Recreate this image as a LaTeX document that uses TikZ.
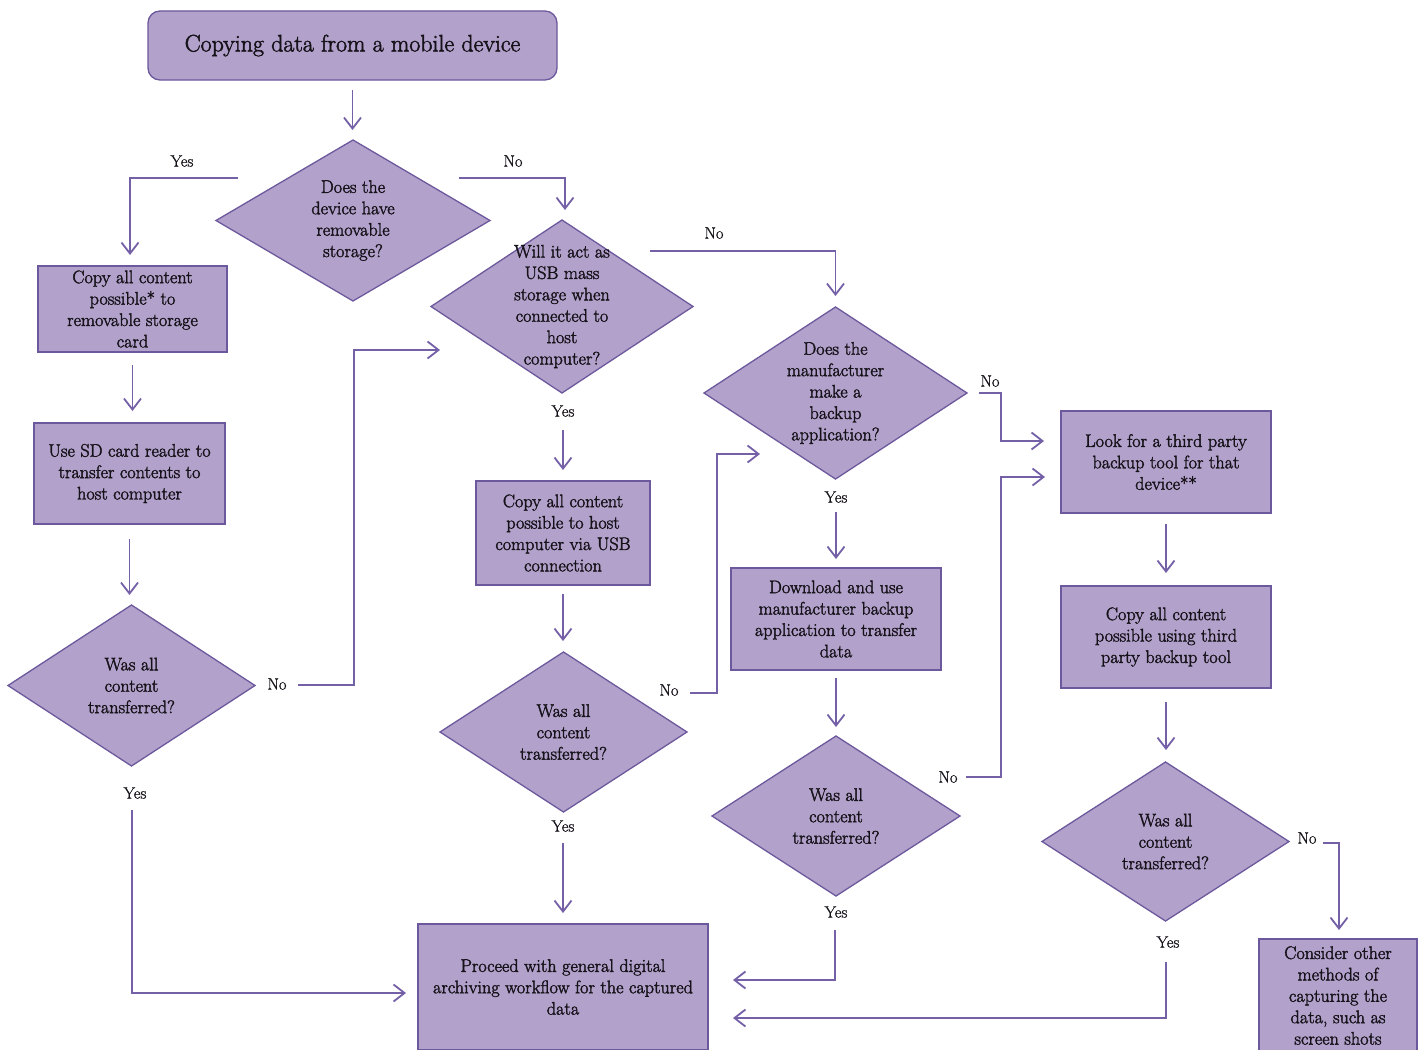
\documentclass[tikz,border=0pt]{standalone}
\usepackage{fontspec}
\setmainfont{Latin Modern Roman}
\newfontfamily\garfont{Latin Modern Roman}[FakeBold=2]
\newfontfamily\labfont{Latin Modern Roman}[FakeBold=0.8]
\usetikzlibrary{shapes.geometric,arrows.meta,calc}
\definecolor{boxfill}{RGB}{178,162,203}
\definecolor{boxline}{RGB}{108,88,156}
\definecolor{arrline}{RGB}{116,96,166}
\definecolor{txt}{RGB}{22,18,26}
\begin{document}
\begin{tikzpicture}[x=1pt,y=-1pt,
  box/.style={draw=boxline, fill=boxfill, line width=1.3pt, rectangle, inner sep=0pt, outer sep=0pt, align=center, text=txt, font=\garfont\fontsize{18.2}{21.4}\selectfont},
  dia/.style={draw=boxline, fill=boxfill, line width=1.3pt, diamond, inner sep=0pt, outer sep=0pt},
  dtext/.style={align=center, text=txt, font=\garfont\fontsize{18.2}{21.4}\selectfont, inner sep=0pt},
  lab/.style={text=txt, font=\labfont\fontsize{16.5}{19}\selectfont, inner sep=0pt},
  arr/.style={draw=arrline, line width=1.8pt, -{Straight Barb[length=11pt,width=17pt,line width=1.8pt]}},
]
\clip (0,0) rectangle (1423,1049);
\fill[white] (0,0) rectangle (1423,1049);

% ---- nodes ----
\node[box, rounded corners=12pt, minimum width=409pt, minimum height=69pt, font=\garfont\fontsize{23.9}{28}\selectfont] (title) at (352.5,45.5) {Copying data from a mobile device};

\node[dia, minimum width=274pt, minimum height=161pt] (d1) at (353,220.5) {};
\node[dtext] (t1) at (d1.center) {Does the\\device have\\removable\\storage?};

\node[box, minimum width=189pt, minimum height=86pt] (b1) at (132.5,309) {Copy all content\\possible* to\\removable storage\\card};
\node[box, minimum width=191pt, minimum height=101pt] (b2) at (129.5,473.5) {Use SD card reader to\\transfer contents to\\host computer};

\node[dia, minimum width=247pt, minimum height=161pt] (d3) at (131.5,685.5) {};
\node[dtext] (t3) at (d3.center) {Was all\\content\\transferred?};

\node[dia, minimum width=262pt, minimum height=173pt] (d2) at (562,306.5) {};
\node[dtext] (t2) at (d2.center) {Will it act as\\USB mass\\storage when\\connected to\\host\\computer?};

\node[box, minimum width=174pt, minimum height=104pt] (b3) at (563,533) {Copy all content\\possible to host\\computer via USB\\connection};

\node[dia, minimum width=247pt, minimum height=160pt] (d4) at (563.5,732) {};
\node[dtext] (t4) at (d4.center) {Was all\\content\\transferred?};

\node[dia, minimum width=263pt, minimum height=172pt] (d5) at (835.5,393) {};
\node[dtext] (t5) at (d5.center) {Does the\\manufacturer\\make a\\backup\\application?};

\node[box, minimum width=210pt, minimum height=102pt] (b4) at (836,619) {Download and use\\manufacturer backup\\application to transfer\\data};

\node[dia, minimum width=248pt, minimum height=160pt] (d6) at (836,816) {};
\node[dtext] (t6) at (d6.center) {Was all\\content\\transferred?};

\node[box, minimum width=210pt, minimum height=102pt] (b5) at (1166,462) {Look for a third party\\backup tool for that\\device**};
\node[box, minimum width=210pt, minimum height=102pt] (b6) at (1166,637) {Copy all content\\possible using third\\party backup tool};

\node[dia, minimum width=247pt, minimum height=159pt] (d7) at (1165.5,841.5) {};
\node[dtext] (t7) at (d7.center) {Was all\\content\\transferred?};

\node[box, minimum width=290pt, minimum height=126pt] (b7) at (563,987) {Proceed with general digital\\archiving workflow for the captured\\data};
\node[box, minimum width=158pt, minimum height=113pt] (b8) at (1338,995.5) {Consider other\\methods of\\capturing the\\data, such as\\screen shots};

% ---- labels ----
\node[lab] (l1y) at (182,161) {Yes};
\node[lab] (l1n) at (513,161) {No};
\node[lab] (l3n) at (277,684) {No};
\node[lab] (l3y) at (135,793) {Yes};
\node[lab] (l2n) at (714,233) {No};
\node[lab] (l2y) at (563,411) {Yes};
\node[lab] (l4n) at (669,690) {No};
\node[lab] (l4y) at (563,826) {Yes};
\node[lab] (l5n) at (990,381) {No};
\node[lab] (l5y) at (836,497) {Yes};
\node[lab] (l6n) at (948,777) {No};
\node[lab] (l6y) at (836,912) {Yes};
\node[lab] (l7n) at (1307,838) {No};
\node[lab] (l7y) at (1168,942) {Yes};

% ---- free ends ----
\coordinate (c1y) at (238,178);
\coordinate (c1n) at (459,178);
\coordinate (c3n) at (298,685);
\coordinate (c3y) at (132,810);
\coordinate (in2) at (440,350);
\coordinate (c2n) at (650,251);
\coordinate (c2y) at (563,430);
\coordinate (c4n) at (690,693);
\coordinate (in5) at (760,454);
\coordinate (c4y) at (563,843);
\coordinate (c5n) at (979,393);
\coordinate (c5y) at (836,512);
\coordinate (c6n) at (966,777);
\coordinate (c6y) at (835,930);
\coordinate (c7n) at (1323,843);
\coordinate (c7y) at (1166,962);

% ---- connectors ----
\draw[arr, shorten <=10pt, shorten >=10pt] (title.south) -- (title.south |- d1.north);
\draw[arr, shorten >=11pt] (c1y) -| ([xshift=-2.5pt]b1.north);
\draw[arr, shorten >=10pt] (c1n) -| ([xshift=3pt]d2.north);
\draw[arr, shorten <=13pt, shorten >=12pt] (b1.south) -- (b1.south |- b2.north);
\draw[arr, shorten <=15pt, shorten >=10pt] (b2.south) -- (b2.south |- d3.north);
\draw[arr] (c3n) -- (354,685) -- (354,350) -- (in2);
\draw[arr, shorten >=12pt] (c3y) |- ([yshift=-6pt]b7.west);
\draw[arr, shorten >=11pt] (c2n) -| (d5.north);
\draw[arr, shorten >=11pt] (c2y) -- (c2y |- b3.north);
\draw[arr, shorten <=9pt, shorten >=11pt] (b3.south) -- (b3.south |- d4.north);
\draw[arr] (c4n) -- (717,693) -- (717,454) -- (in5);
\draw[arr, shorten >=11pt] (c4y) -- (c4y |- b7.north);
\draw[arr, shorten >=17pt] (c5n) -- (1001,393) |- ([yshift=21pt]b5.west);
\draw[arr, shorten >=9pt] (c5y) -- (c5y |- b4.north);
\draw[arr, shorten <=8pt, shorten >=9pt] (b4.south) -- (b4.south |- d6.north);
\draw[arr, shorten >=16pt] (c6n) -- (1001,777) |- ([yshift=-15pt]b5.west);
\draw[arr, shorten >=25pt] (c6y) |- ([yshift=7pt]b7.east);
\draw[arr, shorten <=11pt, shorten >=13pt] (b5.south) -- (b6.north);
\draw[arr, shorten <=14pt, shorten >=12pt] (b6.south) -- (b6.south |- d7.north);
\draw[arr, shorten >=9pt] (c7n) -| ([xshift=1pt]b8.north);
\draw[arr, shorten >=25pt] (c7y) |- ([yshift=-31pt]b7.east);
\end{tikzpicture}
\end{document}
